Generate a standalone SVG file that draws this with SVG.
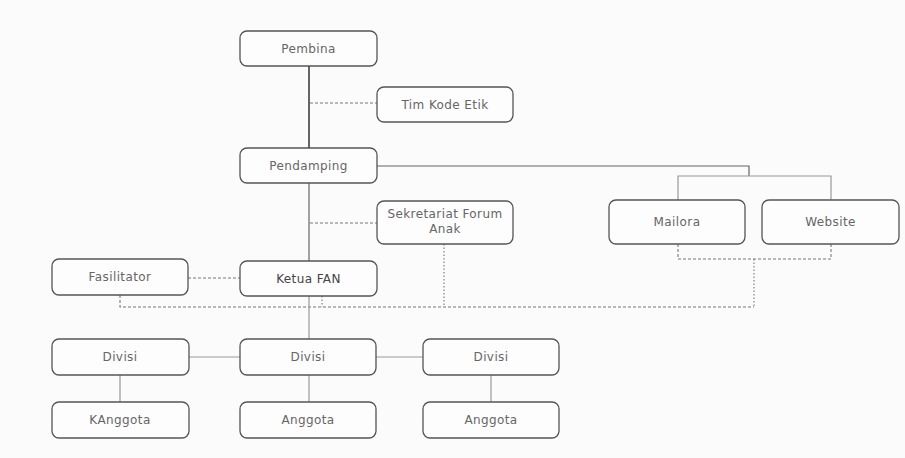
<svg xmlns="http://www.w3.org/2000/svg" width="905" height="458" viewBox="0 0 905 458">
<style>
.bg{fill:#fbfbfb}
.box{fill:#fdfdfd;stroke:#555;stroke-width:1.3}
.t{font-family:"DejaVu Sans","Liberation Sans",sans-serif;font-size:12px;letter-spacing:0.4px;fill:#666;text-anchor:middle;dominant-baseline:central}
.s1{stroke:#333;stroke-width:1.5;fill:none}
.s2{stroke:#666;stroke-width:1.2;fill:none}
.s3{stroke:#999;stroke-width:1.2;fill:none}
.d{stroke:#777;stroke-width:1.1;fill:none;stroke-dasharray:3,2}
.dt{stroke:#777;stroke-width:1.1;fill:none;stroke-dasharray:1.5,2}
</style>
<rect class="bg" x="0" y="0" width="905" height="458"/>
<g id="connectors">
<line class="s1" x1="309" y1="66" x2="309" y2="148"/>
<line class="d" x1="310" y1="103" x2="377" y2="103"/>
<line class="s2" x1="309" y1="183" x2="309" y2="261"/>
<line class="d" x1="310" y1="223" x2="377" y2="223"/>
<polyline class="s2" points="377,166 749,166 749,176"/>
<polyline class="s3" points="678,200 678,176 831,176 831,200"/>
<line class="d" x1="188" y1="278" x2="240" y2="278"/>
<polyline class="d" points="678,244 678,259 831,259 831,244"/>
<polyline class="dt" points="754,259 754,307"/>
<polyline class="d" points="120,295 120,307 754,307"/>
<line class="dt" x1="444" y1="244" x2="444" y2="307"/>
<line class="dt" x1="322" y1="296" x2="322" y2="307"/>
<line class="s3" x1="309" y1="296" x2="309" y2="339"/>
<line class="s3" x1="189" y1="357" x2="240" y2="357"/>
<line class="s3" x1="376" y1="357" x2="423" y2="357"/>
<line class="s3" x1="120" y1="375" x2="120" y2="402"/>
<line class="s3" x1="309" y1="375" x2="309" y2="402"/>
<line class="s3" x1="491" y1="375" x2="491" y2="402"/>
</g>
<g id="pembina"><rect class="box" x="240" y="31" width="137" height="35" rx="7"/><text class="t" x="308.5" y="48.5">Pembina</text></g>
<g id="timkode"><rect class="box" x="377" y="87" width="136" height="35" rx="7"/><text class="t" x="445" y="104.5">Tim Kode Etik</text></g>
<g id="pendamping"><rect class="box" x="240" y="148" width="137" height="35" rx="7"/><text class="t" x="308.5" y="165.5">Pendamping</text></g>
<g id="sekretariat"><rect class="box" x="377" y="201" width="136" height="43" rx="7"/><text class="t" x="445" y="213.5">Sekretariat Forum</text><text class="t" x="445" y="229">Anak</text></g>
<g id="mailora"><rect class="box" x="609" y="200" width="136" height="44" rx="7"/><text class="t" x="677" y="222">Mailora</text></g>
<g id="website"><rect class="box" x="762" y="200" width="137" height="44" rx="7"/><text class="t" x="830.5" y="222">Website</text></g>
<g id="fasilitator"><rect class="box" x="52" y="259" width="136" height="36" rx="7"/><text class="t" x="120" y="277">Fasilitator</text></g>
<g id="ketua"><rect class="box" x="240" y="261" width="137" height="35" rx="7"/><text class="t" x="308.5" y="278.5" style="fill:#444">Ketua FAN</text></g>
<g id="divisi1"><rect class="box" x="52" y="339" width="137" height="36" rx="7"/><text class="t" x="120" y="357">Divisi</text></g>
<g id="divisi2"><rect class="box" x="240" y="339" width="136" height="36" rx="7"/><text class="t" x="308" y="357">Divisi</text></g>
<g id="divisi3"><rect class="box" x="423" y="339" width="136" height="36" rx="7"/><text class="t" x="491" y="357">Divisi</text></g>
<g id="anggota1"><rect class="box" x="52" y="402" width="137" height="36" rx="7"/><text class="t" x="120" y="420">KAnggota</text></g>
<g id="anggota2"><rect class="box" x="240" y="402" width="136" height="36" rx="7"/><text class="t" x="308" y="420">Anggota</text></g>
<g id="anggota3"><rect class="box" x="423" y="402" width="136" height="36" rx="7"/><text class="t" x="491" y="420">Anggota</text></g>
</svg>
